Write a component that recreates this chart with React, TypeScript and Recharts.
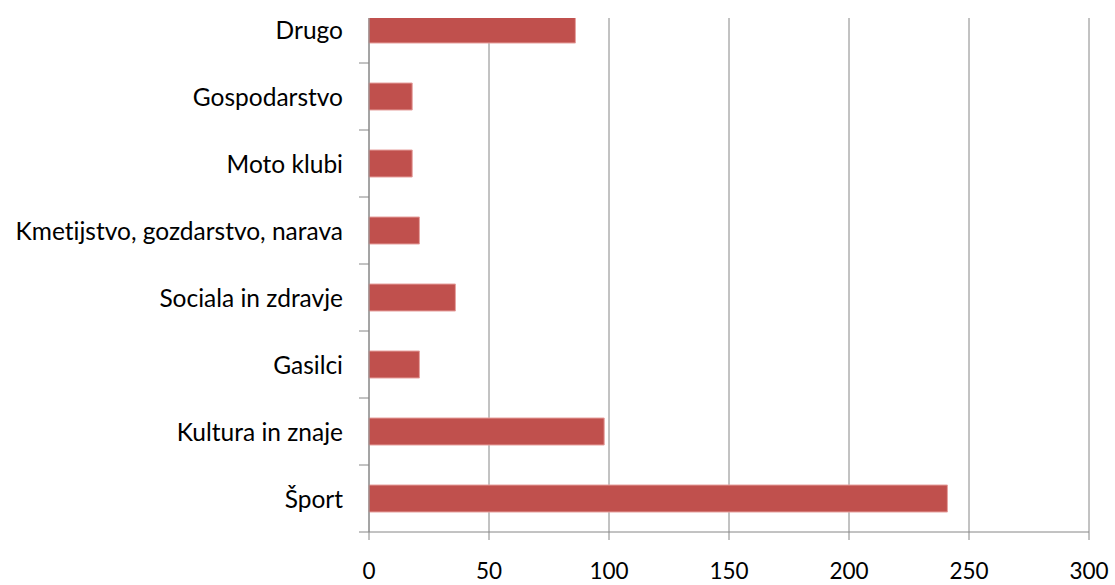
import React from 'react';
import { BarChart, Bar, XAxis, YAxis, CartesianGrid } from 'recharts';

const categories = ['Šport', 'Kultura in znaje', 'Gasilci', 'Sociala in zdravje', 'Kmetijstvo, gozdarstvo, narava', 'Moto klubi', 'Gospodarstvo', 'Drugo'];
const values = [241, 98, 21, 36, 21, 18, 18, 86];
const xTicks = [0, 50, 100, 150, 200, 250, 300];

const data = categories.map((c, i) => ({ name: c, value: values[i] }));

const FONT = 'Lato, "Open Sans", sans-serif';
const BAND = 536 / categories.length;

const YTick = (props: any) => {
  const { y, payload } = props;
  return (
    <g>
      <line x1={359} x2={369} y1={y + BAND / 2} y2={y + BAND / 2} stroke="#868686" strokeWidth={1} />
      <text x={343} y={y} textAnchor="end" dominantBaseline="central" fontFamily={FONT} fontSize={24.5} fill="#000" style={{ fontVariantLigatures: 'none' }}>
        {payload.value}
      </text>
    </g>
  );
};

const XTick = (props: any) => {
  const { x, y, payload } = props;
  return (
    <text x={x} y={y + 28} textAnchor="middle" dominantBaseline="central" fontFamily={FONT} fontSize={22.5} fill="#000">
      {payload.value}
    </text>
  );
};

export default function App() {
  return (
    <div style={{ position: 'absolute', left: 0, top: 0, width: 1115, height: 585, overflow: 'hidden', background: '#fff' }}>
      <div style={{ position: 'absolute', left: 0, top: -4 }}>
        <BarChart
          width={1115}
          height={600}
          data={data}
          layout="vertical"
          margin={{ top: 0, right: 26, left: 0, bottom: 24 }}
          barSize={27}
        >
          <CartesianGrid horizontal={false} vertical={true} stroke="#868686" strokeWidth={1} />
          <XAxis
            type="number"
            domain={[0, 300]}
            ticks={xTicks}
            interval={0}
            height={40}
            tickSize={8}
            axisLine={{ stroke: '#868686' }}
            tickLine={{ stroke: '#868686' }}
            tick={<XTick />}
          />
          <YAxis
            type="category"
            dataKey="name"
            width={369}
            reversed
            axisLine={{ stroke: '#868686' }}
            tickLine={false}
            interval={0}
            tick={<YTick />}
          />
          <Bar dataKey="value" fill="#C0504D" stroke="#E6A09E" strokeWidth={1} isAnimationActive={false} />
        </BarChart>
      </div>
      <div style={{ position: 'absolute', left: 350, top: 0, width: 765, height: 18, background: '#fff' }} />
    </div>
  );
}
